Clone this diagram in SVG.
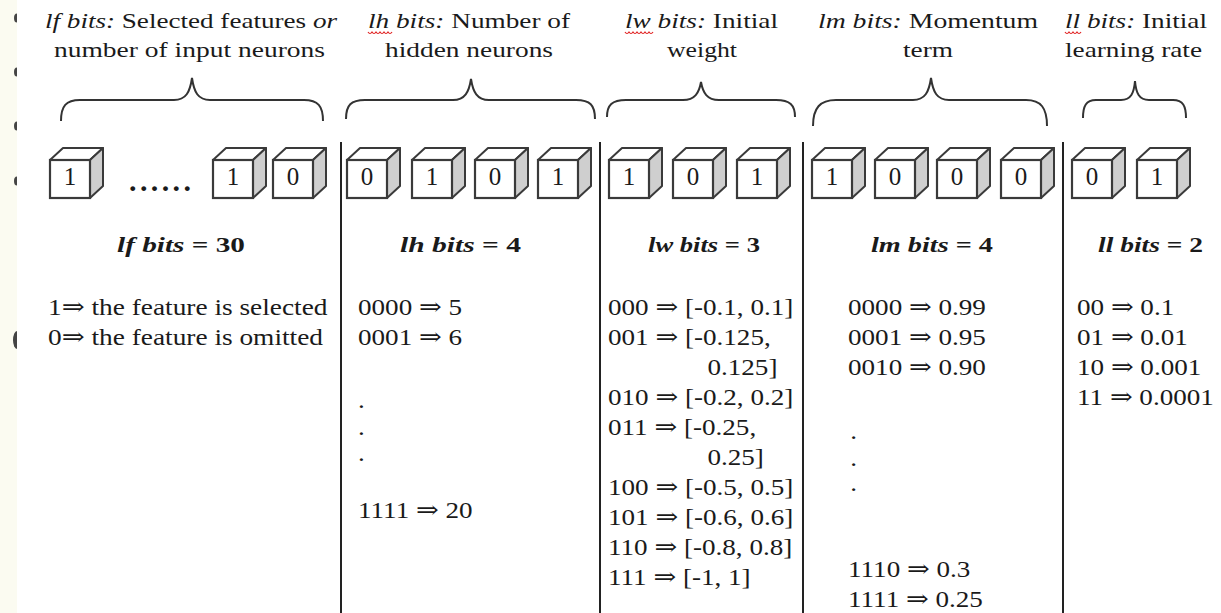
<svg xmlns="http://www.w3.org/2000/svg" width="1221" height="613" viewBox="0 0 1221 613">
<style>
text { font-family: "Liberation Serif", "DejaVu Serif", serif; fill: #1a1a1a; }
.hd { font-size: 22px; }
.it { font-style: italic; }
.bd { font-size: 24px; }
.lb { font-size: 22px; font-weight: bold; }
.dots { font-size: 30px; font-weight: bold; }
.dg { font-size: 25px; text-anchor: middle; }
.brace { fill: none; stroke: #333; stroke-width: 2; }
.div { stroke: #222; stroke-width: 2; }
.front { fill: #fff; stroke: #3a3a3a; stroke-width: 2.2; }
.top { fill: #fff; stroke: #3a3a3a; stroke-width: 2; stroke-linejoin: round; }
.side { fill: #cfcfcf; stroke: #3a3a3a; stroke-width: 2; stroke-linejoin: round; }
.sq { fill: none; stroke: #e02020; stroke-width: 1.2; }
.bul { fill: #444; }
</style>
<defs>
<g id="cube">
<polygon class="top" points="0,0 13,-12 53,-12 40,0"/>
<polygon class="side" points="40,0 53,-12 53,26 40,38"/>
<rect class="front" x="0" y="0" width="40" height="38"/>
</g>
</defs>
<rect x="0" y="0" width="1221" height="613" fill="#fbfbf1"/>
<g id="bullets">
<ellipse class="bul" cx="17" cy="18" rx="3" ry="4.5"/>
<ellipse class="bul" cx="17" cy="72" rx="3" ry="4.5"/>
<ellipse class="bul" cx="17" cy="126" rx="3" ry="4.5"/>
<ellipse class="bul" cx="17" cy="181" rx="3" ry="4.5"/>
<ellipse class="bul" cx="17" cy="340" rx="4" ry="9"/>
</g>
<rect x="17" y="0" width="1204" height="613" fill="#ffffff"/>

<g id="connectors">
<line class="div" x1="341" y1="142" x2="341" y2="613"/>
<line class="div" x1="600" y1="142" x2="600" y2="613"/>
<line class="div" x1="803" y1="142" x2="803" y2="613"/>
<line class="div" x1="1063" y1="142" x2="1063" y2="613"/>
<path class="brace" d="M61,121 C61,106 66,100 80,100 L174,100 C186,100 190,92 192,78 C194,92 198,100 210,100 L304,100 C318,100 323,106 323,121"/>
<path class="brace" d="M346,119 C346,105 351,100 365,100 L453,100 C465,100 469,92 471,79 C473,92 477,100 489,100 L576,100 C590,100 595,105 595,119"/>
<path class="brace" d="M607,117 C607,105 612,100 626,100 L683,100 C695,100 699,93 701,82 C703,93 707,100 719,100 L776,100 C790,100 795,105 795,117"/>
<path class="brace" d="M813,126 C813,108 820,100 836,100 L913,100 C925,100 929,92 931,78 C933,92 937,100 949,100 L1026,100 C1041,100 1047,108 1047,126"/>
<path class="brace" d="M1083,118 C1083,106 1086,100 1096,100 L1121,100 C1131,100 1134,93 1135,81 C1136,93 1139,100 1149,100 L1173,100 C1183,100 1186,106 1186,118"/>
</g>

<g id="lf">
<text class="hd" x="45" y="28" textLength="292" lengthAdjust="spacingAndGlyphs"><tspan class="it">lf bits:</tspan> Selected features <tspan class="it">or</tspan></text>
<text class="hd" x="54" y="57" textLength="271" lengthAdjust="spacingAndGlyphs">number of input neurons</text>
<use href="#cube" x="50" y="160"/><text class="dg" x="70" y="185">1</text>
<text class="dots" x="129" y="191" textLength="62" lengthAdjust="spacing">......</text>
<use href="#cube" x="213" y="160"/><text class="dg" x="233" y="185">1</text>
<use href="#cube" x="273" y="160"/><text class="dg" x="293" y="185">0</text>
<text class="lb" x="117" y="252" textLength="128" lengthAdjust="spacingAndGlyphs"><tspan class="it">lf bits</tspan> = 30</text>
<g transform="translate(48,0) scale(1.14,1)">
<text class="bd" x="0" y="315">1⇒ the feature is selected</text>
<text class="bd" x="0" y="345">0⇒ the feature is omitted</text>
</g>
</g>

<g id="lh">
<text class="hd" x="368" y="28" textLength="202" lengthAdjust="spacingAndGlyphs"><tspan class="it">lh bits:</tspan> Number of</text>
<path class="sq" d="M368,32 q2,3 4,0 q2,3 4,0 q2,3 4,0 q2,3 4,0 q2,3 4,0 q2,3 4,0"/>
<text class="hd" x="385" y="57" textLength="168" lengthAdjust="spacingAndGlyphs">hidden neurons</text>
<use href="#cube" x="347" y="160"/><text class="dg" x="367" y="185">0</text>
<use href="#cube" x="412" y="160"/><text class="dg" x="432" y="185">1</text>
<use href="#cube" x="475" y="160"/><text class="dg" x="495" y="185">0</text>
<use href="#cube" x="538" y="160"/><text class="dg" x="558" y="185">1</text>
<text class="lb" x="400" y="252" textLength="121" lengthAdjust="spacingAndGlyphs"><tspan class="it">lh bits</tspan> = 4</text>
<g transform="translate(358,0) scale(1.13,1)">
<text class="bd" x="0" y="315">0000 ⇒ 5</text>
<text class="bd" x="0" y="345">0001 ⇒ 6</text>
<text class="bd" x="0" y="408">.</text>
<text class="bd" x="0" y="435">.</text>
<text class="bd" x="0" y="461">.</text>
<text class="bd" x="0" y="518">1111 ⇒ 20</text>
</g>
</g>

<g id="lw">
<text class="hd" x="625" y="28" textLength="153" lengthAdjust="spacingAndGlyphs"><tspan class="it">lw bits:</tspan> Initial</text>
<path class="sq" d="M625,32 q2,3 4,0 q2,3 4,0 q2,3 4,0 q2,3 4,0 q2,3 4,0 q2,3 4,0 q2,3 4,0"/>
<text class="hd" x="667" y="57" textLength="70" lengthAdjust="spacingAndGlyphs">weight</text>
<use href="#cube" x="609" y="160"/><text class="dg" x="629" y="185">1</text>
<use href="#cube" x="673" y="160"/><text class="dg" x="693" y="185">0</text>
<use href="#cube" x="737" y="160"/><text class="dg" x="757" y="185">1</text>
<text class="lb" x="648" y="252" textLength="112" lengthAdjust="spacingAndGlyphs"><tspan class="it">lw bits</tspan> = 3</text>
<g transform="translate(608,0) scale(1.13,1)">
<text class="bd" x="0" y="315">000 ⇒ [-0.1, 0.1]</text>
<text class="bd" x="0" y="345">001 ⇒ [-0.125,</text>
<text class="bd" x="88" y="375">0.125]</text>
<text class="bd" x="0" y="405">010 ⇒ [-0.2, 0.2]</text>
<text class="bd" x="0" y="435">011 ⇒ [-0.25,</text>
<text class="bd" x="88" y="465">0.25]</text>
<text class="bd" x="0" y="495">100 ⇒ [-0.5, 0.5]</text>
<text class="bd" x="0" y="525">101 ⇒ [-0.6, 0.6]</text>
<text class="bd" x="0" y="555">110 ⇒ [-0.8, 0.8]</text>
<text class="bd" x="0" y="585">111 ⇒ [-1, 1]</text>
</g>
</g>

<g id="lm">
<text class="hd" x="818" y="28" textLength="220" lengthAdjust="spacingAndGlyphs"><tspan class="it">lm bits:</tspan> Momentum</text>
<text class="hd" x="903" y="57" textLength="50" lengthAdjust="spacingAndGlyphs">term</text>
<use href="#cube" x="812" y="160"/><text class="dg" x="832" y="185">1</text>
<use href="#cube" x="875" y="160"/><text class="dg" x="895" y="185">0</text>
<use href="#cube" x="937" y="160"/><text class="dg" x="957" y="185">0</text>
<use href="#cube" x="1001" y="160"/><text class="dg" x="1021" y="185">0</text>
<text class="lb" x="871" y="252" textLength="122" lengthAdjust="spacingAndGlyphs"><tspan class="it">lm bits</tspan> = 4</text>
<g transform="translate(848,0) scale(1.13,1)">
<text class="bd" x="0" y="315">0000 ⇒ 0.99</text>
<text class="bd" x="0" y="345">0001 ⇒ 0.95</text>
<text class="bd" x="0" y="375">0010 ⇒ 0.90</text>
<text class="bd" x="2" y="439">.</text>
<text class="bd" x="2" y="466">.</text>
<text class="bd" x="2" y="491">.</text>
<text class="bd" x="0" y="577">1110 ⇒ 0.3</text>
<text class="bd" x="0" y="607">1111 ⇒ 0.25</text>
</g>
</g>

<g id="ll">
<text class="hd" x="1065" y="28" textLength="142" lengthAdjust="spacingAndGlyphs"><tspan class="it">ll bits:</tspan> Initial</text>
<path class="sq" d="M1065,32 q2,3 4,0 q2,3 4,0 q2,3 4,0 q2,3 4,0"/>
<text class="hd" x="1065" y="57" textLength="137" lengthAdjust="spacingAndGlyphs">learning rate</text>
<use href="#cube" x="1072" y="160"/><text class="dg" x="1092" y="185">0</text>
<use href="#cube" x="1137" y="160"/><text class="dg" x="1157" y="185">1</text>
<text class="lb" x="1098" y="252" textLength="105" lengthAdjust="spacingAndGlyphs"><tspan class="it">ll bits</tspan> = 2</text>
<g transform="translate(1077,0) scale(1.13,1)">
<text class="bd" x="0" y="315">00 ⇒ 0.1</text>
<text class="bd" x="0" y="345">01 ⇒ 0.01</text>
<text class="bd" x="0" y="375">10 ⇒ 0.001</text>
<text class="bd" x="0" y="405">11 ⇒ 0.0001</text>
</g>
</g>
</svg>
